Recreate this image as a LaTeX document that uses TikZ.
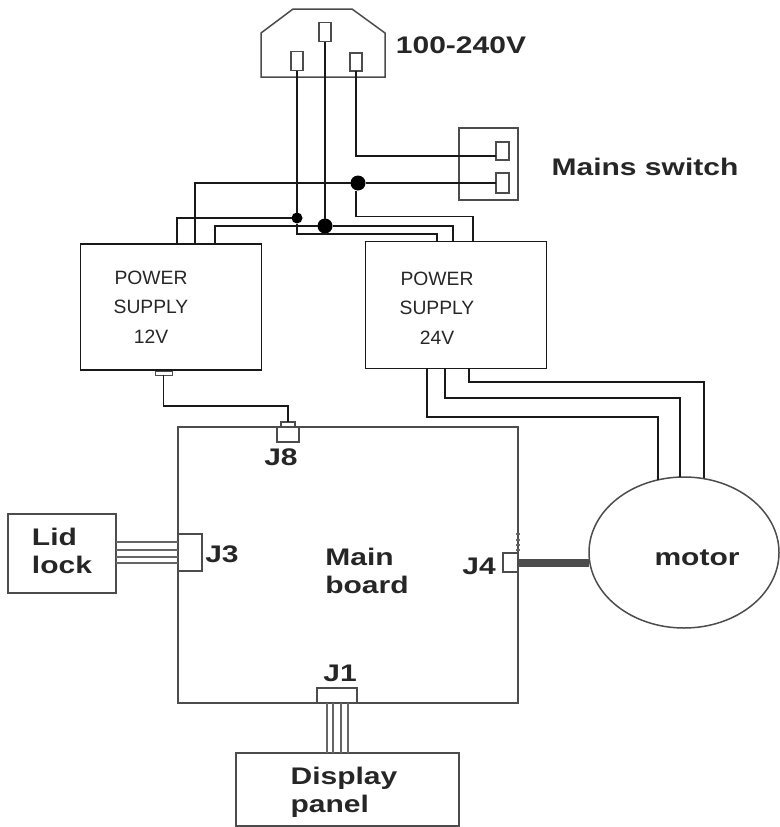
\documentclass[tikz,border=0pt]{standalone}
\usepackage{fontspec}
\setmainfont{Liberation Sans}
\newfontfamily\headfont[FakeStretch=1.25]{Liberation Sans}
\usetikzlibrary{positioning,calc,shapes.geometric}
\tikzstyle{greybox} = [ draw=black!70, rectangle, line width=1.5pt, inner sep = 0pt, outer sep = 0pt]
\tikzstyle{psubox} = [ draw=black!90, rectangle, line width=1.5pt, minimum width=181pt, inner sep = 0pt, outer sep = 0pt]
\tikzstyle{junction} = [ fill=black, circle, inner sep = 0pt, outer sep = 0pt]
\tikzstyle{wire} = [ line width=1.5pt, black!90]
\tikzstyle{thinwire} = [ line width=1.2pt, black!60]
\tikzstyle{boldtext} = [ font=\headfont\bfseries\fontsize{24}{28}\selectfont, align=left, inner sep=0pt, black!85]
\tikzstyle{psutext} = [ font=\fontsize{19.3}{29.5}\selectfont, align=center, inner sep=0pt, black!85]

\begin{document}
\begin{tikzpicture}[x=1pt,y=-1pt]
	\useasboundingbox (0,0) rectangle (779,827);

	\draw[greybox] (261,33) -- (293,9) -- (352,9) -- (385,33) -- (385,77) -- (261,77) -- cycle;
	\node[greybox, minimum width=12pt, minimum height=19pt] (pinl) at ( 297, 61 ) {};
	\node[greybox, minimum width=12pt, minimum height=19pt] (pinc) at ( 325, 32 ) {};
	\node[greybox, minimum width=12pt, minimum height=18pt] (pinr) at ( 356, 62 ) {};
	\node[boldtext] (volt) at ( 461, 45 ) {100-240V};

	\node[greybox, minimum width=59pt, minimum height=72pt] (switch) at ( 488.5, 164 ) {};
	\node[greybox, minimum width=13pt, minimum height=18pt] (swa) at ( 502.5, 151 ) {};
	\node[greybox, minimum width=13pt, minimum height=20pt] (swb) at ( 502.5, 183 ) {};
	\node[boldtext] (swtext) at ( 645, 167 ) {Mains switch};

	\node[psubox, minimum height=126pt] (ps12) at ( 171, 307 ) {};
	\node[psubox, minimum height=127pt] (ps24) at ( 456, 305 ) {};
	\node[psutext] (ps12text) at ( 151, 307 ) {POWER\\SUPPLY\\12V};
	\node[psutext] (ps24text) at ( 437, 308 ) {POWER\\SUPPLY\\24V};
	\node[greybox, line width=1pt, minimum width=17pt, minimum height=4pt] (j12) at ( 163.5, 373 ) {};

	\node[junction, minimum size=15pt] (dotb) at ( 358, 183 ) {};
	\node[junction, minimum size=11pt] (dotl) at ( 297, 218 ) {};
	\node[junction, minimum size=15pt] (dotc) at ( 325, 226 ) {};

	\node[greybox, minimum width=340pt, minimum height=276pt] (board) at ( 348, 565 ) {};
	\node[boldtext] (maintext) at ( 367, 571 ) {Main\\board};
	\node[greybox, minimum width=14pt, minimum height=5pt] (j8top) at ( 288, 424.5 ) {};
	\node[greybox, minimum width=22pt, minimum height=15pt] (j8) at ( 288, 434.5 ) {};
	\node[boldtext] (j8text) at ( 281, 457 ) {J8};
	\node[greybox, minimum width=24pt, minimum height=37pt] (j3) at ( 190, 552.5 ) {};
	\node[boldtext] (j3text) at ( 222, 554 ) {J3};
	\node[greybox, minimum width=15pt, minimum height=19pt] (j4) at ( 510.5, 562.5 ) {};
	\node[boldtext] (j4text) at ( 479, 566 ) {J4};
	\node[greybox, minimum width=40pt, minimum height=15pt] (j1) at ( 337, 695.5 ) {};
	\node[boldtext] (j1text) at ( 340, 673 ) {J1};

	\node[greybox, minimum width=108pt, minimum height=79pt] (lid) at ( 62, 553.5 ) {};
	\node[boldtext] (lidtext) at ( 62, 551 ) {Lid\\lock};
	\node[greybox, minimum width=223pt, minimum height=73pt] (panel) at ( 347.5, 789.5 ) {};
	\node[boldtext] (paneltext) at ( 344, 792 ) {Display\\panel};
	\node[greybox, ellipse, minimum width=190pt, minimum height=151pt] (motor) at ( 684, 552.5 ) {};
	\node[boldtext] (motortext) at ( 697, 558 ) {motor};

	\coordinate (ps12a) at ( 177, 244 );
	\coordinate (ps12b) at ( 195, 244 );
	\coordinate (ps12c) at ( 215, 244 );
	\coordinate (ps24a) at ( 437, 241.5 );
	\coordinate (ps24b) at ( 453, 241.5 );
	\coordinate (ps24c) at ( 473, 241.5 );
	\coordinate (mota) at ( 658, 480 );
	\coordinate (motb) at ( 680, 477 );
	\coordinate (motc) at ( 704, 478 );
	\coordinate (outa) at ( 427, 368.5 );
	\coordinate (outb) at ( 445, 368.5 );
	\coordinate (outc) at ( 469, 368.5 );

	\draw[wire](pinl) -- (dotl);
	\draw[wire](pinc) -- (dotc);
	\draw[wire](pinr.south) |- ([yshift=-5pt]swa.west);
	\draw[wire](dotb) -- (swb.west);
	\draw[wire](dotb) -| (ps12b);
	\draw[wire](dotl) -| (ps12a);
	\draw[wire](dotc) -| (ps12c);
	\draw[wire](dotl) -- ++(0,16) -| (ps24a);
	\draw[wire](dotc) -| (ps24b);
	\draw[wire](dotb.south) ++(-2,0) |- ++(117,26) -- (ps24c);

	\draw[wire](outa) |- (mota |- 0,417) -- (mota);
	\draw[wire](outb) |- (motb |- 0,398) -- (motb);
	\draw[wire](outc) |- (motc |- 0,382) -- (motc);

	\draw[wire](j12.south) |- ([yshift=16pt]j8top.north) -- (j8top.north);

	\foreach \ypos in {542,550,557,563}
		\draw[thinwire](lid.east |- 0,\ypos) -- (j3.west |- 0,\ypos);
	\foreach \xpos in {327,333,341,348}
		\draw[thinwire](\xpos,703) -- (\xpos,753);
	\foreach \ypos in {560,561.5,563,564.5,566}
		\draw[thinwire, black!70](j4.east |- 0,\ypos) -- (motor.west |- 0,\ypos);
	\foreach \ypos in {534,540,545,550}
		\draw[thinwire](516,\ypos) -- (520,\ypos);
\end{tikzpicture}
\end{document}
